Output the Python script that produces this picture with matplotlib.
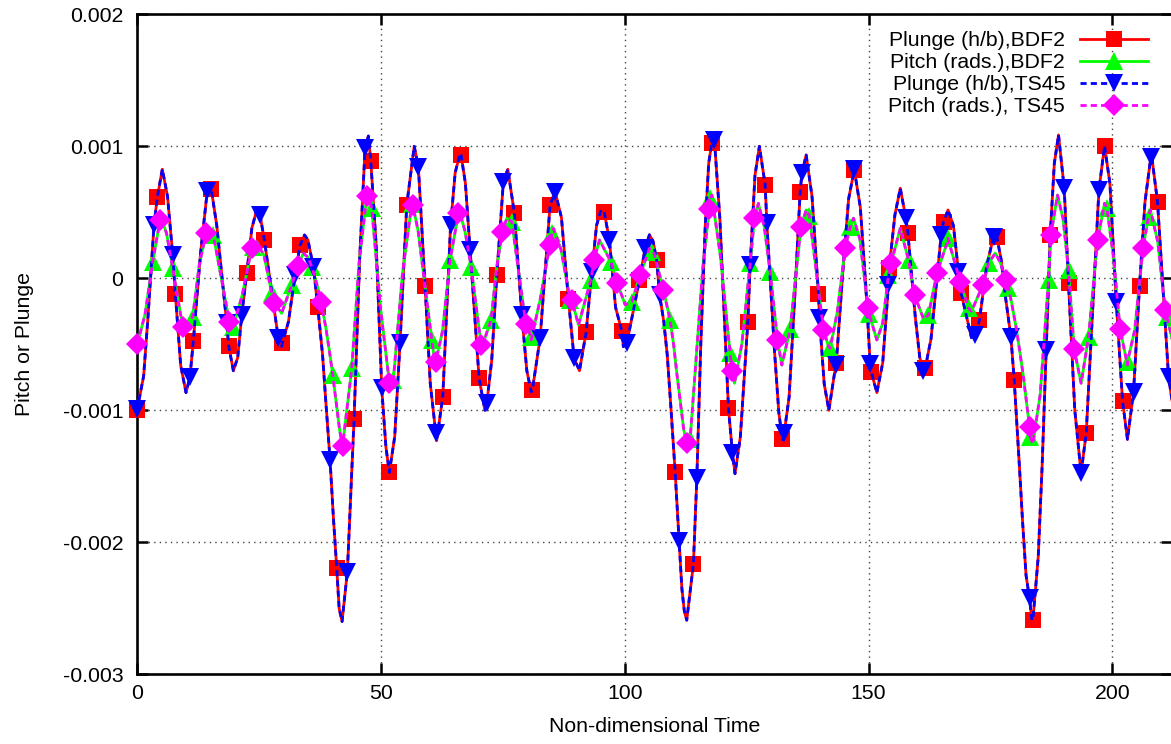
import numpy as np
import matplotlib.pyplot as plt
from matplotlib.lines import Line2D

plt.rcParams['font.family'] = ['Liberation Sans', 'DejaVu Sans']

# all values in units of 1e-3
# turning points and shape points of the plunge curve (t, value)
plunge_shape = [
    (1.3, -0.74), (2.2, -0.29), (5.13, 0.826), (6.2, 0.62), (8.9, -0.66), (9.99, -0.866),
    (13.0, 0.2), (14.78, 0.682), (16.3, 0.40), (19.7, -0.70), (20.6, -0.6), (23.5, 0.38),
    (24.5, 0.518), (29.6, -0.518), (31.0, -0.33), (34.3, 0.328), (35.0, 0.29), (38.0, -0.58),
    (38.7, -0.95), (40.2, -1.80), (41.4, -2.50), (42.0, -2.60), (45.6, 0.14), (47.4, 1.078),
    (49.0, 0.25), (51.0, -1.28), (52.8, -1.2), (56.8, 1.0), (60.1, -0.8), (61.4, -1.23),
    (65.2, 0.80), (66.2, 0.947), (67.3, 0.72), (71.3, -1.0), (72.7, -0.62), (76.0, 0.826),
    (79.9, -0.7), (80.8, -0.86), (87.0, 0.46), (90.7, -0.70), (94.2, 0.40), (95.1, 0.518),
    (98.1, -0.22), (99.7, -0.518), (105.05, 0.33), (105.8, 0.28), (108.0, -0.33), (108.7, -0.58),
    (109.4, -0.95), (111.7, -2.35), (112.2, -2.52), (112.7, -2.59), (115.6, -0.48), (116.5, 0.40),
    (117.2, 0.87), (118.0, 1.078), (119.5, 0.45), (122.6, -1.48), (123.7, -1.2), (126.7, 0.78),
    (127.6, 1.0), (130.7, -0.55), (131.6, -1.02), (132.5, -1.225), (133.7, -0.9), (134.8, -0.18),
    (137.2, 0.934), (138.4, 0.62), (140.9, -0.8), (141.85, -1.0), (144.7, 0.04), (145.9, 0.6),
    (148.3, 0.54), (149.4, -0.04), (151.7, -0.866), (152.9, -0.64), (155.4, 0.48), (156.5, 0.682),
    (159.6, -0.3), (160.5, -0.6), (162.8, -0.46), (166.3, 0.518), (167.4, 0.40), (171.1, -0.45),
    (174.2, 0.09), (176.0, 0.328), (177.2, 0.14), (178.0, -0.12), (180.9, -1.4), (181.6, -1.85),
    (182.3, -2.25), (183.5, -2.59), (184.8, -2.11), (185.6, -1.42), (188.1, 0.87), (188.96, 1.086),
    (192.3, -1.0), (199.5, 0.72), (203.1, -1.22), (206.7, 0.58), (208.0, 0.947), (212.5, -0.99),
]

# turning points and shape points of the pitch curve
pitch_shape = [
    (1.6, -0.27), (4.8, 0.467), (6.0, 0.34), (9.44, -0.38), (12.7, 0.10), (14.9, 0.366),
    (19.4, -0.354), (21.5, -0.13), (24.5, 0.278), (26.0, 0.17), (29.6, -0.265), (34.06, 0.19),
    (35.0, 0.16), (36.8, -0.04), (38.7, -0.38), (39.4, -0.55), (40.9, -0.97), (41.5, -1.15),
    (45.5, 0.12), (47.3, 0.645), (49.9, -0.23), (54.4, 0.04), (57.6, 0.36), (61.1, -0.657),
    (62.6, -0.40), (66.0, 0.518), (67.2, 0.36), (70.7, -0.518), (73.7, 0.08), (75.8, 0.455),
    (80.8, -0.467), (82.7, -0.15), (85.35, 0.378), (86.9, 0.22), (90.5, -0.354), (94.8, 0.29),
    (100.06, -0.2), (105.05, 0.227), (106.0, 0.19), (110.0, -0.5), (110.7, -0.73), (111.5, -0.97),
    (112.1, -1.15), (116.0, 0.08), (117.85, 0.63), (119.6, 0.17), (122.5, -0.795), (124.0, -0.5),
    (127.4, 0.568), (128.6, 0.39), (132.2, -0.657), (137.2, 0.518), (141.8, -0.518), (143.6, -0.25),
    (146.9, 0.455), (148.2, 0.30), (151.7, -0.467), (152.9, -0.34), (156.5, 0.378), (161.3, -0.31),
    (166.1, 0.27), (171.1, -0.25), (176.0, 0.19), (177.0, 0.12), (179.3, -0.177), (180.3, -0.38),
    (181.0, -0.55), (181.7, -0.73), (182.5, -0.97), (183.7, -1.255), (185.2, -0.88), (188.75, 0.63),
    (189.9, 0.45), (193.6, -0.795), (198.4, 0.568), (200.2, 0.17), (203.1, -0.657), (204.6, -0.39),
    (207.8, 0.518), (209.3, 0.28), (212.5, -0.5),
]

# sampled points carrying the markers
plunge_bdf2 = [
    (0, -1.0), (4.10, 0.614), (7.80, -0.119), (11.49, -0.475), (15.18, 0.674), (18.75, -0.513),
    (22.45, 0.038), (26.06, 0.29), (29.75, -0.49), (33.38, 0.25), (37.01, -0.215), (40.91, -2.197),
    (44.46, -1.068), (47.89, 0.891), (51.70, -1.47), (55.27, 0.556), (59.03, -0.058), (62.66, -0.896),
    (66.41, 0.934), (70.11, -0.758), (73.74, 0.025), (77.35, 0.492), (81.04, -0.846), (84.67, 0.556),
    (88.43, -0.159), (92.06, -0.409), (95.75, 0.505), (99.38, -0.399), (103.0, -0.013), (106.52, 0.139),
    (110.32, -1.465), (114.07, -2.164), (117.85, 1.028), (121.26, -0.985), (125.24, -0.328), (128.79, 0.707),
    (132.33, -1.22), (135.97, 0.657), (139.72, -0.119), (143.35, -0.639), (147.05, 0.821), (150.53, -0.707),
    (154.22, 0.076), (158.06, 0.346), (161.61, -0.682), (165.37, 0.429), (169.0, -0.114), (172.75, -0.316),
    (176.32, 0.311), (179.87, -0.77), (183.71, -2.588), (187.26, 0.328), (191.01, -0.038), (194.64, -1.174),
    (198.4, 1.003), (202.09, -0.927), (205.58, -0.058), (209.27, 0.578),
]
plunge_ts45 = [
    (0, -0.99), (3.43, 0.404), (7.26, 0.177), (10.81, -0.745), (14.36, 0.664), (18.34, -0.341),
    (21.42, -0.278), (25.17, 0.48), (28.93, -0.455), (32.36, 0.025), (36.11, 0.088), (39.54, -1.376),
    (43.09, -2.222), (46.72, 0.985), (50.14, -0.833), (53.90, -0.487), (57.65, 0.846), (61.22, -1.174),
    (64.26, 0.40), (68.26, 0.215), (71.69, -0.947), (75.09, 0.732), (78.87, -0.278), (82.62, -0.455),
    (85.70, 0.657), (89.60, -0.606), (93.23, 0.051), (96.84, 0.29), (100.41, -0.492), (104.17, 0.227),
    (107.14, -0.126), (111.14, -1.987), (114.77, -1.515), (118.38, 1.048), (122.08, -1.326), (125.71, 0.101),
    (129.13, 0.417), (132.68, -1.174), (136.32, 0.795), (139.93, -0.303), (143.35, -0.657), (147.05, 0.826),
    (150.33, -0.65), (154.08, -0.051), (157.65, 0.455), (161.26, -0.70), (164.89, 0.328), (168.44, 0.051),
    (171.87, -0.43), (175.63, 0.316), (179.19, -0.442), (183.01, -2.424), (186.44, -0.543), (190.13, 0.682),
    (193.58, -1.477), (197.25, 0.669), (200.8, -0.177), (204.35, -0.859), (207.92, 0.922), (211.53, -0.745),
]
pitch_bdf2 = [
    (3.16, 0.126), (7.26, 0.076), (11.37, -0.29), (15.59, 0.33), (19.70, -0.366), (23.74, 0.24),
    (27.58, -0.114), (31.68, -0.05), (35.78, 0.088), (40.09, -0.732), (43.99, -0.682), (48.09, 0.53),
    (52.52, -0.77), (56.30, 0.56), (60.40, -0.467), (64.16, 0.139), (68.47, 0.088), (72.57, -0.316),
    (76.82, 0.429), (80.78, -0.442), (85.08, 0.341), (88.78, -0.164), (93.02, -0.013), (97.13, 0.126),
    (101.44, -0.177), (105.54, 0.202), (109.29, -0.316), (113.40, -1.22), (117.50, 0.606), (121.6, -0.568),
    (125.71, 0.114), (129.81, 0.051), (133.91, -0.386), (137.87, 0.472), (142.12, -0.53), (146.22, 0.391),
    (150.12, -0.27), (154.08, 0.025), (158.19, 0.139), (162.29, -0.278), (166.27, 0.303), (170.50, -0.227),
    (174.60, 0.114), (178.70, -0.076), (183.15, -1.2), (186.91, -0.013), (191.01, 0.063), (195.12, -0.442),
    (198.89, 0.53), (203.12, -0.631), (207.43, 0.467), (211.20, -0.29),
]
pitch_ts45 = [
    (0, -0.5), (4.66, 0.442), (9.31, -0.366), (14.10, 0.341), (18.88, -0.328), (23.47, 0.227),
    (28.11, -0.184), (32.91, 0.093), (37.69, -0.177), (42.1, -1.27), (47.07, 0.624), (51.70, -0.79),
    (56.50, 0.556), (61.22, -0.631), (65.86, 0.492), (70.52, -0.505), (74.89, 0.354), (79.69, -0.346),
    (84.61, 0.253), (89.13, -0.164), (93.70, 0.139), (98.48, -0.038), (103.14, 0.025), (107.92, -0.088),
    (112.72, -1.25), (117.30, 0.523), (121.95, -0.70), (126.59, 0.455), (131.31, -0.467), (136.11, 0.386),
    (140.75, -0.391), (145.20, 0.227), (149.88, -0.227), (154.64, 0.119), (159.42, -0.126), (164.01, 0.038),
    (168.79, -0.025), (173.45, -0.051), (178.23, -0.013), (183.01, -1.124), (187.40, 0.328), (192.18, -0.538),
    (196.96, 0.29), (201.6, -0.386), (206.27, 0.227), (210.85, -0.24),
]

labels = ['Plunge (h/b),BDF2', 'Pitch (rads.),BDF2', 'Plunge (h/b),TS45', 'Pitch (rads.), TS45']
xticks = [0, 50, 100, 150, 200]
yticks = [-0.003, -0.002, -0.001, 0, 0.001, 0.002]
ytick_labels = ['-0.003', '-0.002', '-0.001', '0', '0.001', '0.002']


def pts(p):
    a = np.array(p, dtype=float)
    return a[:, 0], a[:, 1] * 1e-3


def curve(*parts):
    t = np.concatenate([pts(p)[0] for p in parts])
    v = np.concatenate([pts(p)[1] for p in parts])
    o = np.argsort(t, kind='stable')
    return t[o], v[o]


pl_t, pl_v = curve(plunge_shape, plunge_bdf2, plunge_ts45)
pi_t, pi_v = curve(pitch_shape, pitch_bdf2, pitch_ts45)

fig = plt.figure(figsize=(11.71, 7.44), dpi=100)
ax = fig.add_axes([137.3 / 1171, 1 - 674.3 / 744, (1172.3 - 137.3) / 1171, 660 / 744])

red, green, blue, magenta = '#ff0000', '#00ff00', '#0000ff', '#ff00ff'
lw = 2.0
dash = (2.2, 1.5)
ms_sq, ms_tri, ms_dia = 11, 12.5, 11

ax.plot(pl_t, pl_v, color=red, lw=lw, zorder=3)
t, v = pts(plunge_bdf2)
ax.plot(t, v, ls='none', marker='s', ms=ms_sq, mew=0, color=red, zorder=4, clip_on=False)

ax.plot(pi_t, pi_v, color=green, lw=lw, zorder=5)
t, v = pts(pitch_bdf2)
ax.plot(t, v, ls='none', marker='^', ms=ms_tri, mew=0, color=green, zorder=6, clip_on=False)

ax.plot(pl_t, pl_v, color=blue, lw=lw, dashes=dash, zorder=7)
t, v = pts(plunge_ts45)
ax.plot(t, v, ls='none', marker='v', ms=ms_tri, mew=0, color=blue, zorder=8, clip_on=False)

ax.plot(pi_t, pi_v, color=magenta, lw=lw, dashes=dash, zorder=9)
t, v = pts(pitch_ts45)
ax.plot(t, v, ls='none', marker='D', ms=ms_dia, mew=0, color=magenta, zorder=10, clip_on=False)

ax.set_xlim(0, 212.3)
ax.set_ylim(-0.003, 0.002)
ax.set_xticks(xticks)
ax.set_xticklabels([str(x) for x in xticks])
ax.set_yticks(yticks)
ax.set_yticklabels(ytick_labels)
ax.tick_params(direction='in', length=8, width=1.8, top=True, right=True, labelsize=15.3)
ax.tick_params(axis='y', pad=10)
ax.tick_params(axis='x', pad=7)
for s in ax.spines.values():
    s.set_linewidth(1.9)
ax.grid(True, color='#444444', lw=1.0, dashes=(1, 3))
ax.set_axisbelow(True)

ax.set_xlabel('Non-dimensional Time', fontsize=15.3)
ax.set_ylabel('Pitch or Plunge', fontsize=15.3)
ax.xaxis.set_label_coords(0.5, -0.065)
ax.yaxis.set_label_coords(-0.1, 0.5)

handles = [
    Line2D([], [], color=red, lw=lw, marker='s', ms=ms_sq, mew=0),
    Line2D([], [], color=green, lw=lw, marker='^', ms=ms_tri, mew=0),
    Line2D([], [], color=blue, lw=lw, dashes=dash, marker='v', ms=ms_tri, mew=0),
    Line2D([], [], color=magenta, lw=lw, dashes=dash, marker='D', ms=ms_dia, mew=0),
]
fig.legend(handles, labels, loc='upper right', bbox_to_anchor=(1148 / 1171, 1 - 31.5 / 744),
           frameon=False, markerfirst=False, fontsize=15.3, handlelength=3.2,
           handletextpad=0.7, labelspacing=0.14, borderpad=0, borderaxespad=0)

fig.savefig('out.png', dpi=100)
